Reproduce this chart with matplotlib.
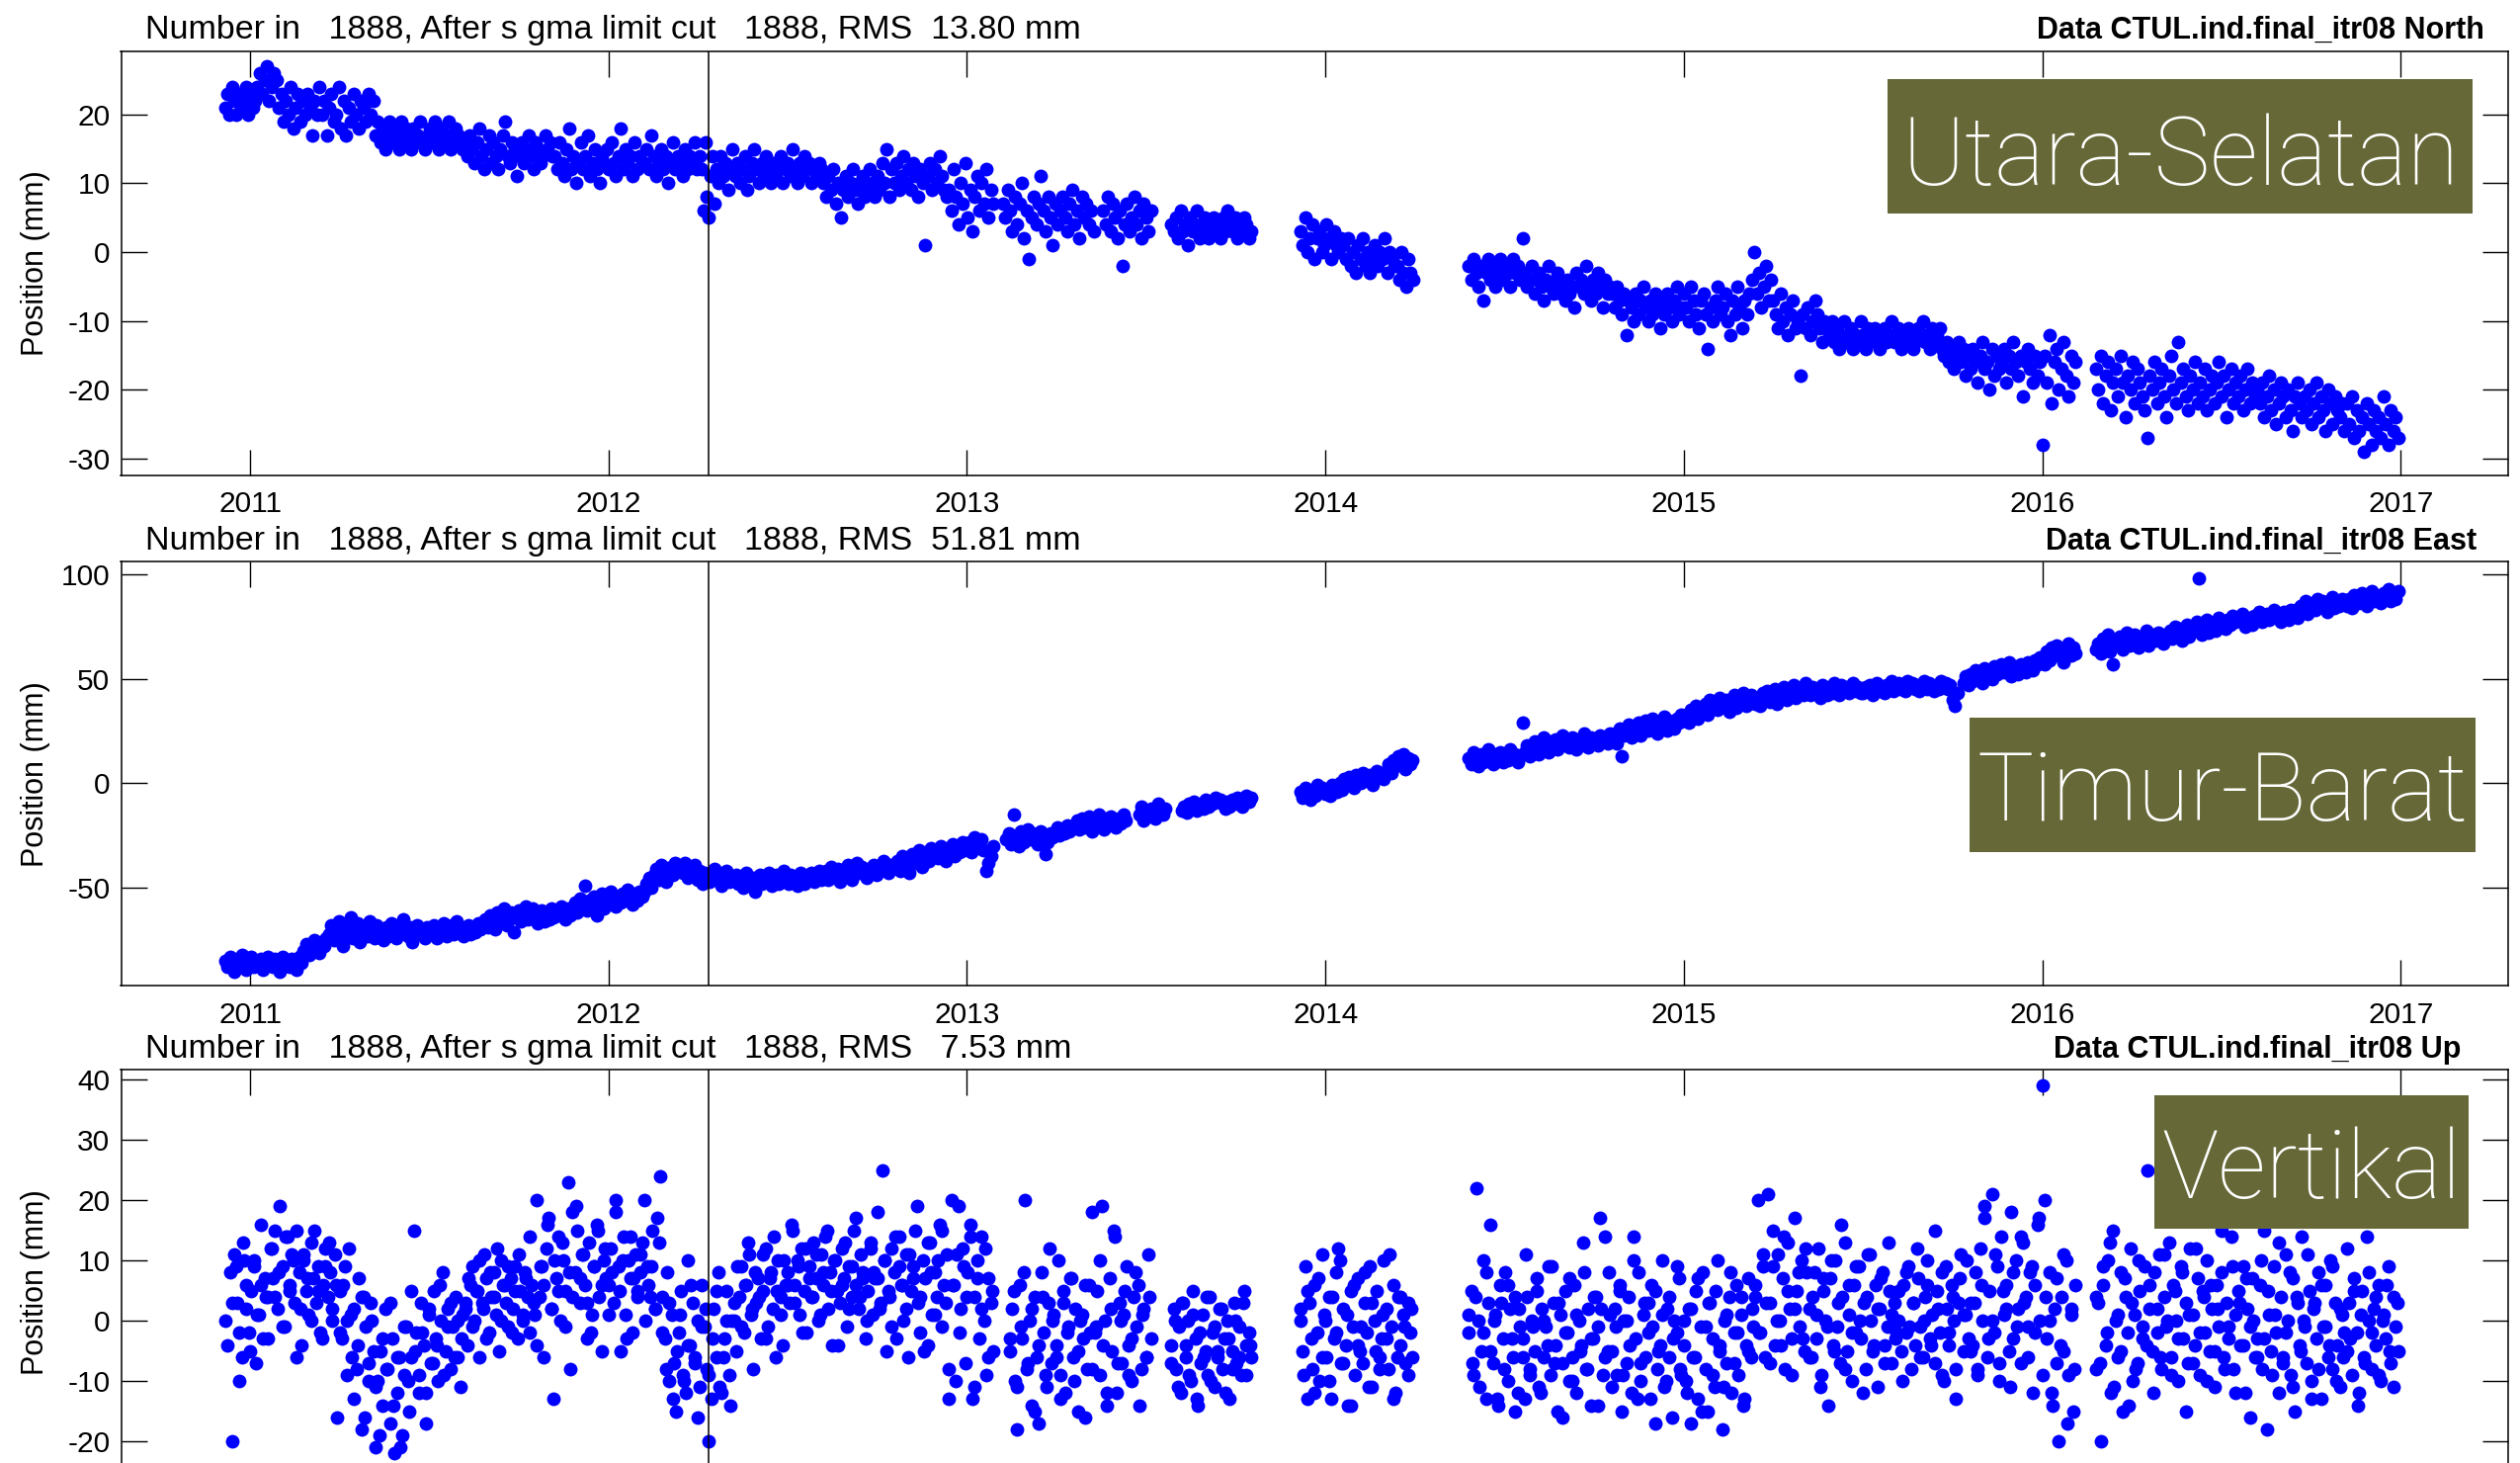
import numpy as np
import matplotlib
matplotlib.use("Agg")
import matplotlib.pyplot as plt
from matplotlib.patches import Rectangle

plt.rcParams['font.family'] = ['Liberation Sans', 'DejaVu Sans']
plt.rcParams['axes.unicode_minus'] = False

# ---------------- data (decimal year segments, positions in mm) ----------------
year_ticks = [2011, 2012, 2013, 2014, 2015, 2016, 2017]
north_yticks = [-30, -20, -10, 0, 10, 20]
east_yticks = [-50, 0, 50, 100]
up_yticks = [-20, -10, 0, 10, 20, 30, 40]
event_year = 2012.28

titles_left = ["Number in   1888, After s gma limit cut   1888, RMS  13.80 mm",
               "Number in   1888, After s gma limit cut   1888, RMS  51.81 mm",
               "Number in   1888, After s gma limit cut   1888, RMS   7.53 mm"]
titles_right = ["Data CTUL.ind.final_itr08 North",
                "Data CTUL.ind.final_itr08 East",
                "Data CTUL.ind.final_itr08 Up"]
box_labels = ["Utara-Selatan", "Timur-Barat", "Vertikal"]

north = [
    (2010.93, 2011.02, [21, 23, 20, 24, 22, 20, 23, 21, 22, 24, 20, 23, 21, 22]),
    (2011.02, 2011.08, [24, 26, 23, 25, 27, 22, 24, 26, 25]),
    (2011.08, 2011.20, [21, 23, 19, 22, 20, 24, 18, 21, 23, 19, 22, 20, 23, 21, 17, 22, 20, 24]),
    (2011.20, 2011.35, [20, 22, 17, 21, 23, 19, 20, 24, 18, 22, 17, 21, 19, 23, 20, 18, 22, 21, 19, 23, 20, 22]),
    (2011.35, 2011.60, [17, 19, 16, 18, 15, 17, 19, 16, 18, 17, 15, 19, 16, 18, 17, 15, 18, 16, 17, 19, 16, 15, 17, 18, 16, 19, 17, 15, 18, 16, 17, 19, 15, 16, 18, 17, 16, 15]),
    (2011.60, 2011.85, [16, 14, 17, 15, 13, 16, 18, 14, 12, 15, 17, 13, 16, 14, 12, 15, 17, 19, 14, 13, 16, 15, 11, 14, 16, 13, 15, 17, 14, 12, 16, 15, 13, 14, 17, 15, 16, 14]),
    (2011.85, 2012.10, [14, 12, 16, 13, 11, 15, 18, 12, 14, 10, 13, 16, 12, 14, 17, 11, 13, 15, 12, 10, 14, 13, 15, 12, 16, 13, 11, 14, 18, 12, 15, 13, 14, 11, 16, 12, 14, 13]),
    (2012.10, 2012.26, [13, 15, 12, 17, 14, 11, 13, 15, 12, 14, 10, 13, 16, 12, 14, 13, 11, 15, 12, 14, 13, 16, 12, 14]),
    (2012.26, 2012.30, [12, 6, 16, 8, 5, 11, 14, 7]),
    (2012.30, 2012.60, [12, 10, 14, 11, 13, 9, 12, 15, 11, 13, 10, 12, 14, 9, 11, 13, 15, 12, 10, 13, 11, 14, 12, 10, 13, 11, 12, 14, 10, 12, 13, 11, 15, 12, 10, 13, 11, 14, 12, 13, 10, 12, 11, 13, 12]),
    (2012.60, 2012.75, [10, 8, 11, 9, 12, 7, 10, 5, 9, 11, 8, 10, 12, 9, 7, 10, 11, 8, 9, 12, 10, 8]),
    (2012.75, 2012.95, [11, 9, 13, 10, 15, 8, 12, 10, 13, 9, 11, 14, 10, 12, 9, 13, 11, 8, 12, 10, 1, 11, 13, 9, 12, 10, 14, 11, 9, 8]),
    (2012.95, 2013.08, [9, 6, 12, 8, 4, 10, 7, 13, 5, 9, 3, 8, 11, 6, 10, 7, 12, 5, 9, 7]),
    (2013.10, 2013.36, [7, 5, 9, 6, 3, 8, 4, 7, 10, 2, 6, -1, 5, 8, 4, 7, 11, 6, 3, 8, 5, 1, 7, 4, 6, 8, 5, 3, 7, 9, 4, 6, 2, 8, 5, 7, 4, 6, 3]),
    (2013.38, 2013.52, [6, 4, 8, 3, 7, 5, 2, 6, -2, 4, 7, 3, 5, 8, 4, 6, 2, 7, 5, 3, 6]),
    (2013.57, 2013.80, [4, 3, 5, 2, 6, 3, 4, 1, 5, 3, 4, 6, 2, 3, 5, 4, 2, 3, 5, 3, 4, 2, 5, 3, 6, 4, 3, 5, 2, 4, 3, 5, 4, 2, 3]),
    (2013.93, 2014.05, [3, 1, 5, 0, 2, 4, -1, 2, 3, 0, 1, 4, 2, -1, 3, 1, 0, 2]),
    (2014.05, 2014.20, [1, -1, 2, -2, 0, -3, 1, -1, 2, -2, 0, -3, -1, 1, -2, 0, -1, 2, -3, 0, -1, -2]),
    (2014.20, 2014.25, [-2, -4, 0, -3, -5, -1, -3, -4]),
    (2014.40, 2014.55, [-2, -4, -1, -3, -5, -2, -7, -3, -1, -4, -2, -5, -3, -1, -4, -2, -3, -5, -1, -3, -2, -4]),
    (2014.55, 2014.80, [2, -3, -5, -4, -2, -6, -4, -3, -5, -7, -4, -2, -5, -6, -4, -3, -6, -5, -7, -4, -6, -5, -8, -3, -5, -4, -6, -2, -5, -7, -4, -6, -3, -5, -8, -4, -6, -5]),
    (2014.80, 2015.00, [-6, -8, -5, -7, -9, -6, -12, -7, -8, -10, -6, -9, -7, -5, -8, -10, -7, -9, -6, -8, -11, -7, -9, -6, -8, -10, -7, -5, -9, -8]),
    (2015.00, 2015.19, [-6, -8, -10, -5, -7, -9, -11, -7, -6, -9, -14, -8, -10, -7, -5, -9, -8, -6, -10, -12, -7, -9, -5, -8, -11, -7, -9, -6]),
    (2015.19, 2015.25, [-4, 0, -6, -3, -8, -5, -2, -7, -4]),
    (2015.25, 2015.40, [-7, -9, -11, -6, -10, -8, -12, -9, -7, -11, -10, -18, -9, -11, -8, -12, -10, -7, -9, -11, -13, -10]),
    (2015.40, 2015.72, [-11, -12, -10, -13, -11, -14, -12, -10, -13, -12, -11, -14, -12, -13, -10, -12, -14, -11, -13, -12, -11, -13, -14, -12, -11, -13, -12, -10, -13, -12, -11, -14, -12, -13, -11, -12, -14, -13, -11, -12, -10, -13, -12, -14, -11, -13, -12, -11]),
    (2015.72, 2016.00, [-14, -15, -13, -16, -14, -17, -15, -13, -16, -14, -18, -15, -17, -14, -16, -19, -15, -13, -17, -16, -20, -14, -18, -15, -17, -16, -14, -19, -15, -17, -13, -16, -18, -15, -21, -16, -14, -17, -19, -15, -18, -16]),
    (2016.00, 2016.10, [-28, -15, -19, -12, -22, -16, -14, -20, -17, -13, -18, -21, -15, -19, -16]),
    (2016.15, 2016.30, [-17, -20, -15, -22, -18, -16, -23, -19, -17, -21, -15, -19, -24, -18, -20, -16, -22, -17, -19, -21, -23, -27]),
    (2016.30, 2016.60, [-18, -20, -16, -22, -19, -17, -21, -24, -18, -15, -20, -22, -13, -19, -17, -21, -23, -18, -20, -16, -22, -19, -21, -17, -23, -20, -18, -22, -19, -16, -21, -18, -24, -20, -17, -22, -19, -21, -18, -23, -20, -17, -22, -19, -21]),
    (2016.60, 2016.85, [-20, -22, -19, -24, -21, -18, -23, -20, -25, -22, -19, -21, -24, -20, -23, -26, -21, -19, -22, -24, -21, -23, -20, -25, -22, -19, -24, -21, -23, -26, -20, -22, -25, -21, -23, -24, -22, -26]),
    (2016.85, 2017.00, [-22, -25, -21, -27, -23, -26, -24, -29, -22, -25, -28, -23, -26, -24, -27, -21, -25, -28, -23, -26, -24, -27]),
]

east = [
    (2010.93, 2011.15, [-85, -88, -83, -86, -90, -84, -87, -82, -85, -89, -86, -83, -88, -85, -87, -84, -89, -86, -83, -85, -88, -84, -86, -90, -83, -87, -85, -88, -84, -86, -89, -83, -86]),
    (2011.15, 2011.22, [-80, -77, -82, -78, -75, -79, -81, -76, -78, -74]),
    (2011.22, 2011.50, [-72, -68, -75, -70, -66, -73, -78, -69, -71, -64, -74, -70, -67, -76, -72, -69, -73, -66, -71, -74, -68, -72, -70, -75, -69, -73, -67, -71, -74, -68, -72, -65, -70, -73, -69, -76, -71, -68, -72, -70, -74, -69]),
    (2011.50, 2011.65, [-70, -72, -68, -74, -69, -71, -67, -73, -70, -68, -72, -66, -71, -69, -73, -70, -68, -72, -69, -71, -67, -70]),
    (2011.65, 2011.90, [-68, -65, -69, -63, -66, -70, -62, -67, -64, -60, -68, -65, -62, -71, -64, -61, -66, -63, -59, -65, -62, -60, -64, -67, -63, -61, -66, -62, -65, -60, -64, -61, -63, -59, -62, -65, -60, -63]),
    (2011.90, 2012.10, [-60, -57, -62, -55, -58, -49, -61, -56, -59, -54, -63, -57, -53, -60, -55, -58, -52, -56, -59, -54, -57, -53, -56, -51, -55, -58, -53, -56, -52, -54]),
    (2012.10, 2012.20, [-52, -48, -45, -50, -44, -41, -46, -39, -42, -47, -43, -40, -44, -38, -41]),
    (2012.20, 2012.35, [-40, -43, -38, -45, -41, -44, -39, -46, -42, -48, -43, -45, -47, -44, -41, -46, -43, -49, -44, -42, -47, -45]),
    (2012.35, 2012.60, [-46, -44, -48, -45, -50, -43, -47, -49, -45, -52, -46, -44, -48, -45, -47, -43, -49, -46, -44, -48, -45, -42, -46, -48, -44, -47, -45, -49, -43, -46, -48, -44, -46, -43, -47, -45, -42, -46]),
    (2012.60, 2012.80, [-44, -42, -46, -40, -43, -45, -41, -47, -42, -44, -39, -43, -46, -41, -38, -43, -40, -42, -45, -41, -43, -39, -44, -40, -42, -37, -41, -43, -39, -40]),
    (2012.80, 2013.00, [-40, -37, -42, -35, -39, -36, -43, -34, -38, -36, -32, -40, -35, -33, -37, -31, -34, -32, -36, -30, -34, -37, -31, -33, -29, -35, -31, -33, -28, -32]),
    (2013.00, 2013.08, [-30, -28, -33, -26, -31, -29, -27, -32, -42, -38, -35, -30]),
    (2013.11, 2013.30, [-27, -24, -29, -15, -26, -30, -23, -28, -25, -22, -27, -24, -26, -29, -23, -25, -34, -28, -24, -26, -23, -21, -25, -22, -24, -20, -23, -21]),
    (2013.30, 2013.45, [-20, -18, -22, -17, -21, -19, -16, -23, -18, -20, -15, -19, -22, -17, -20, -16, -18, -21, -17, -19, -15, -18]),
    (2013.48, 2013.56, [-15, -11, -18, -13, -16, -12, -14, -17, -10, -13, -15, -12]),
    (2013.60, 2013.80, [-13, -11, -14, -10, -12, -9, -13, -11, -10, -12, -8, -11, -9, -10, -7, -9, -8, -10, -12, -9, -11, -8, -10, -7, -9, -11, -8, -6, -9, -7]),
    (2013.93, 2014.04, [-4, -7, -2, -5, -8, -3, -6, -1, -4, -2, -5, -3, -6, -1, -3, -4]),
    (2014.04, 2014.17, [0, -3, 2, -1, 3, 1, -2, 4, 2, 0, 5, 3, 1, 4, -1, 2, 6, 3, 5, 2]),
    (2014.17, 2014.25, [6, 9, 5, 11, 8, 13, 10, 14, 7, 12, 9, 11]),
    (2014.40, 2014.55, [12, 9, 15, 11, 8, 14, 10, 13, 16, 11, 9, 14, 12, 15, 10, 13, 11, 16, 12, 14, 10, 13]),
    (2014.55, 2014.80, [29, 15, 18, 13, 17, 20, 16, 14, 19, 22, 17, 15, 20, 18, 21, 16, 19, 23, 18, 20, 17, 22, 19, 16, 21, 18, 24, 20, 17, 22, 19, 21, 18, 23, 20, 22, 19, 24]),
    (2014.80, 2015.00, [21, 24, 19, 26, 13, 23, 25, 28, 22, 26, 24, 29, 23, 27, 30, 25, 28, 31, 26, 24, 29, 27, 32, 25, 30, 28, 26, 31, 29, 33]),
    (2015.00, 2015.20, [30, 33, 29, 35, 32, 37, 31, 36, 34, 38, 33, 40, 36, 39, 35, 41, 38, 37, 40, 34, 39, 42, 36, 41, 38, 43, 37, 40, 42, 39]),
    (2015.20, 2015.50, [38, 41, 37, 43, 40, 44, 39, 42, 45, 38, 43, 41, 46, 40, 44, 42, 47, 41, 43, 45, 42, 48, 44, 42, 46, 43, 45, 41, 47, 44, 42, 46, 43, 48, 45, 42, 47, 44, 46, 43, 45, 48, 44, 46, 43]),
    (2015.50, 2015.75, [43, 46, 44, 47, 42, 45, 48, 44, 46, 43, 47, 45, 49, 44, 46, 48, 45, 47, 44, 49, 46, 48, 45, 47, 44, 46, 49, 45, 48, 46, 44, 47, 45, 49, 46, 48, 45, 47]),
    (2015.75, 2015.77, [40, 37, 43]),
    (2015.78, 2016.00, [48, 51, 47, 52, 49, 54, 50, 53, 48, 55, 51, 53, 50, 56, 52, 54, 57, 53, 55, 58, 51, 54, 56, 52, 57, 55, 53, 58, 56, 54, 59, 57, 60]),
    (2016.00, 2016.10, [60, 57, 63, 59, 65, 61, 66, 62, 64, 58, 63, 67, 61, 65, 62]),
    (2016.15, 2016.35, [64, 67, 62, 69, 65, 71, 63, 57, 68, 66, 70, 64, 67, 72, 66, 69, 71, 68, 65, 70, 67, 73, 66, 69, 71, 68, 72, 70, 67, 71]),
    (2016.35, 2016.70, [70, 73, 69, 75, 71, 74, 68, 72, 76, 70, 74, 73, 77, 98, 71, 75, 78, 72, 74, 76, 73, 79, 75, 77, 74, 78, 76, 80, 77, 79, 78, 81, 75, 77, 79, 76, 80, 78, 82, 77, 79, 81, 78, 80, 83, 79, 81, 77, 82, 80, 78, 83]),
    (2016.70, 2016.85, [80, 83, 79, 85, 82, 87, 81, 84, 86, 83, 88, 85, 87, 84, 82, 86, 89, 84, 87, 85, 88, 86]),
    (2016.85, 2017.00, [85, 88, 84, 90, 87, 86, 91, 88, 85, 89, 92, 87, 90, 88, 86, 91, 89, 93, 87, 90, 88, 92]),
]

up = [
    (2010.93, 2011.05, [0, -4, 8, -20, 11, 3, -10, -6, 10, 2, -2, 5, 9, -7, 1, 6, -3, 4]),
    (2011.05, 2011.25, [4, 12, 7, 15, 2, 19, 9, -1, 14, 6, 11, 3, 15, 8, -4, 10, 5, 1, 13, 7, 3, 9, -2, 6, 12, 4, 8, 0, 11, -16]),
    (2011.25, 2011.35, [5, -3, 9, 0, 12, -6, 2, -8, 7, -18, 4, -1, -10, 3, -5]),
    (2011.35, 2011.45, [-21, -10, -5, -14, 2, -8, -17, -3, -22, -12, -6, -19, -9, -1, -15]),
    (2011.45, 2011.60, [-6, 15, -2, -9, 3, -4, -12, 1, -7, 5, -3, -10, 0, 8, -5, 2, -8, -1, 4, -6, -11, 1]),
    (2011.60, 2011.80, [2, -4, 6, 9, 0, 5, -6, 3, 11, 7, -2, 4, 8, 1, -5, 10, 6, 3, -1, 7, 2, 9, -3, 5, 0, 8, 4, -2, 6, 1]),
    (2011.80, 2012.00, [20, 4, 9, -6, 12, 17, 2, -13, 7, 14, 0, 10, 5, 23, -8, 18, 8, 15, 3, 11, 6, -3, 13, 1, 9, 16, 4, -5, 10, 7]),
    (2012.00, 2012.15, [6, 12, 3, 20, 9, -5, 14, 1, 10, 7, -2, 11, 5, 8, 13, 0, 9, 4, 15, 2, 17, 24]),
    (2012.15, 2012.28, [4, -3, 8, -10, 1, -7, -15, -2, 5, -9, -12, 10, -4, 3, -6, 0, -11, 6, -1, -8]),
    (2012.28, 2012.35, [-20, -13, 2, -6, 8, -12, -3, 5, -9, 0]),
    (2012.35, 2012.50, [0, -5, 4, 9, -2, 6, 11, 1, -8, 3, 7, -3, 5, 12, -1, 8, 2, -6, 10, 4, -4, 6]),
    (2012.50, 2012.75, [8, 3, 15, 6, 10, 1, 12, 5, -2, 9, 4, 13, 7, 0, 11, 6, 14, 2, 8, -4, 10, 5, 3, 12, 7, -1, 9, 4, 15, 6, 2, 11, 8, -3, 5, 13, 1, 7]),
    (2012.75, 2012.95, [7, 2, 25, 10, -5, 4, 12, 8, -3, 14, 6, 0, 11, -6, 5, 9, 15, 3, -2, 10, 7, -4, 13, 1, 8, 4, 16, -1, 6, 11]),
    (2012.95, 2013.08, [-13, 20, 6, -10, 19, 2, 12, -7, 8, 16, -13, 4, 10, -3, 14, 0, -9, 7, 3, -5]),
    (2013.12, 2013.35, [-5, 2, -10, -18, 6, -3, 20, -8, 0, -14, 4, -6, -17, 8, -2, -11, 3, -7, 1, -4, 10, -9, 5, -12, -1, 7, -6, 2, -15, 0, -3, 6, -8, -2]),
    (2013.35, 2013.52, [18, -2, 5, -9, 19, 0, -14, 7, -5, 14, -12, 3, -7, 1, 9, -4, -10, 4, -1, 6, -8, 2, -6, 11, -3]),
    (2013.57, 2013.80, [-4, 2, -8, -1, -12, 3, -6, 0, -10, 5, -3, -14, -7, 1, -5, -9, 4, -2, -11, -6, 2, -8, -3, 0, -13, -5, 3, -7, -1, -9, 5, -4, -2, -6]),
    (2013.93, 2014.25, [0, -5, 9, -13, 3, -8, 6, -2, -10, 11, 1, -6, 4, -13, -3, 8, 12, -7, 2, -4, -14, 5, -1, -9, 7, -5, -7, 3, -2, 9, -11, 0, 5, -6, -3, 10, 2, -8, -1, 6, -12, 4, -4, 1, -7, 3, -2, -6]),
    (2014.40, 2014.55, [-2, 5, -9, 22, 0, -5, 10, -13, 3, 16, -7, 1, -14, 6, -3, 8, -10, 2, -6, 4, -12, -1]),
    (2014.55, 2014.80, [-3, -13, 4, -8, 0, -5, 7, -11, 2, -6, -1, 9, -9, 3, -4, -15, 1, -7, 5, -2, -10, -6, 6, -12, 0, -4, 8, -8, 2, -14, -3, 4, -1, 17, -9, 14, -5, 1]),
    (2014.80, 2015.00, [-5, 2, -9, 6, -15, 0, -7, 4, -12, 14, -3, 8, -10, 1, -6, 3, -13, -1, 5, -8, -4, 10, -11, 2, -6, -16, 0, -2, 7, -9]),
    (2015.00, 2015.20, [-4, -10, 2, -17, -6, 5, -13, -1, 8, -8, -15, 3, -3, -11, 10, -5, -18, 0, -7, 4, -12, -2, 6, -9, 1, -14, -4, 7, -6, -1]),
    (2015.20, 2015.35, [4, 20, -2, 9, -6, 21, 3, 15, -4, 11, 0, 7, -8, 13, 2, -3, 17, 5, -1, 10, -5, 8]),
    (2015.35, 2015.60, [2, -6, 8, -3, 12, -9, 5, 0, -14, 7, -4, 10, -1, -7, 4, 13, -5, 1, -10, 6, -2, 9, -3, 3, -8, 11, 0, -5, 6, -11, 2, 8, -4, -1, 5, -7, 3, -2]),
    (2015.60, 2015.80, [0, -5, 6, -2, 9, -8, 3, -4, 7, -1, -6, 4, 10, -3, 1, -7, 5, -2, 8, -10, 2, -4, 6, 0, -8, 3, 11, -5, 1, -3]),
    (2015.80, 2016.00, [3, -4, 8, -9, 12, 0, 17, -6, 5, 21, -2, 9, -10, 14, 1, 6, -5, 18, -3, 10, 2, -7, 13, 4, -1, 8, -12, 6, 16, 0]),
    (2016.00, 2016.10, [39, 20, -3, 8, -12, 2, -7, -20, 4, -5, 10, -9, 1, -15, 6]),
    (2016.15, 2016.30, [-8, 3, -20, 6, -4, 10, -12, 15, 0, -6, 8, -15, 4, -2, 12, -10, 1, -7, 5, -3, 9, 25]),
    (2016.30, 2016.60, [2, -5, 8, -2, 11, -8, 4, -1, 13, -6, 6, 0, -10, 9, -3, 3, -7, 12, 1, -4, 7, -9, 5, -2, 10, -5, 2, -11, 6, -1, 8, -6, 3, -3, 14, -8, 1, 5, -4, 9, -12, 2, -1, 7, -6]),
    (2016.60, 2016.85, [-3, 6, -8, 15, -18, 1, -5, 9, -2, -12, 4, -6, 11, 0, -9, 7, -15, 3, -4, 14, -1, -7, 5, -10, 2, -3, 8, -13, -1, 6, -6, 10, -8, 3, -4, -11, 1, -2]),
    (2016.85, 2017.00, [-5, 3, -9, 7, -2, -12, 5, -6, 14, 0, -8, 2, -4, 6, -10, 1, -3, 9, -7, 4, -1, -5]),
]

# further daily Up solutions read from the same clouds (interleaved in time)
up_more = [
    (2010.95, 2011.25, [3, 9, -2, 13, 6, -5, 10, 1, 16, 7, -3, 12, 4, 8, -1, 14, 5, 10, -6, 2, 11, 7, 0, 15, 5, -3, 9, 13, 2, 6]),
    (2011.25, 2011.60, [-2, 6, -9, 1, -13, -4, 4, -16, -7, 0, -11, -19, -3, -8, 3, -14, -6, -21, -1, -10, 5, -5, -12, -2, -17, 2, -7, -4, 6, -9, -1, 3, -6, 0, -3]),
    (2011.60, 2012.15, [3, 7, -1, 5, 10, 2, -3, 8, 4, 12, 0, 6, 9, -2, 5, 11, 1, 7, 14, 3, -4, 9, 6, 16, 2, 10, 5, 13, -1, 8, 4, 19, 7, 11, 3, -2, 9, 15, 6, 12, 1, 8, 18, 5, 10, -3, 14, 7, 4, 11, 20, 6, 9, 2, 13]),
    (2012.15, 2012.35, [-2, -8, 3, -13, -5, 1, -10, -4, 6, -7, -16, -1, 2, -9, -3, 5, -11, -6, 0, -14]),
    (2012.35, 2013.08, [3, 9, -1, 6, 13, 2, 8, 4, 11, -3, 7, 14, 5, 1, 10, 6, 16, 3, 9, -2, 12, 7, 4, 11, 1, 8, 15, 5, 10, -4, 6, 13, 2, 9, 17, 4, 7, 0, 12, 8, 18, 3, 10, 5, -1, 14, 9, 6, 2, 11, 7, 19, 4, -5, 13, 8, 1, 10, 15, 3, -8, 6, 11, -2, 9, 4, 14, -11, 7, 2, 12, -6, 5]),
    (2013.12, 2013.52, [-3, 5, -11, -1, 8, -7, 2, -15, -4, 4, -9, 12, 0, -6, -13, 3, -2, 7, -10, -5, 1, -16, 6, -8, -1, 10, -4, -12, 2, 15, -7, 0, 5, -9, -3, 8, -14, 1, -6, 4]),
    (2013.57, 2013.80, [-7, 0, -11, 3, -4, -9, 1, -13, -2, -6, 4, -10, -1, -5, 2, -12, -3, -8, 0, -6, 3, -9, -4]),
    (2013.93, 2014.25, [2, -9, 5, -3, -12, 7, -6, 0, -10, 4, -2, 10, -7, 1, -14, 6, -4, -1, 8, -11, 3, -5, -8, 1, -3, 11, -13, -6, 4, -1, -9, 2]),
    (2014.40, 2015.20, [1, -7, 4, -11, -2, 8, -5, 0, -13, 3, -8, 6, -3, -15, 2, -6, 11, -9, -1, 5, -12, 0, -4, 9, -7, 3, -16, -2, 7, -10, 1, -5, 13, -8, -3, 4, -14, 2, -6, 8, -11, -1, 5, -9, 0, -4, 10, -13, -7, 3, -2, 6, -17, -5, 1, -10, 4, -3, 9, -8, 0, -12, 2, -6, 7, -15, -1, 3, -9, 5, -4, -11, 1, 8, -7, -2, 4, -13, -5, 2]),
    (2015.20, 2016.10, [6, -2, 11, 3, -7, 9, 0, -4, 14, 5, -9, 2, 8, -3, 12, -6, 4, 1, -11, 7, -1, 10, -5, 3, 16, -8, 6, -2, 9, 0, -12, 4, 11, -4, 2, 7, -7, 13, 1, -3, 5, -10, 8, -1, 3, 12, -6, 0, 6, -4, 15, 2, -9, 9, -2, 4, -13, 7, 1, 10, -5, 3, -8, 6, 19, -3, 0, 11, -7, 5, 2, -11, 8, -1, 14, 3, -6, 9, -2, 17, -9, 4, 0, -14, 7, -4, 11, -17, 2, -8]),
    (2016.15, 2017.00, [4, -7, 9, -2, 13, -11, 1, -5, 7, -14, 3, -8, 10, -1, -4, 6, -12, 2, -6, 11, 0, -9, 5, -3, 8, -15, 1, -7, 12, -2, 4, -10, 6, -5, 2, 15, -8, -1, 9, -12, 3, -4, 7, -16, 0, -6, 10, -3, 5, -9, 1, 13, -7, -2, 8, -11, 4, -5, 0, 11, -13, 3, -8, 6, -1, -4, 9, -10, 2, -6, 12, -3, 5, -14, 1, -7, 8, -2, 4, -9, 0, 6, -5, -11, 3]),
]


def expand(*segment_lists):
    ts, vs = [], []
    for segments in segment_lists:
        for a, b, vals in segments:
            ts.append(np.linspace(a, b, len(vals), endpoint=False))
            vs.append(np.asarray(vals, dtype=float))
    return np.concatenate(ts), np.concatenate(vs)


# ---------------- figure ----------------
W, H = 2550, 1480
fig = plt.figure(figsize=(W / 100, H / 100), dpi=100)

left = 122.5 / W
width = (2538 - 122.5) / W
ax_h = 429 / H
tops = [51.7, 568.3, 1082.3]
ylims = [(-32.4, 29.2), (-96.9, 105.9), (-28.7, 41.6)]
yticks = [north_yticks, east_yticks, up_yticks]
datasets = [(north,), (east,), (up, up_more)]
right_edges = [2514, 2506, 2490]

axes = []
for i in range(3):
    bottom = 1 - (tops[i] + 429) / H
    ax = fig.add_axes([left, bottom, width, ax_h])
    t, v = expand(*datasets[i])
    ax.plot(t, v, 'o', color='#0000ff', ms=10.0, mew=0, zorder=3)
    ax.axvline(event_year, color='black', lw=1.1, zorder=4)
    ax.set_xlim(2010.64, 2017.30)
    ax.set_ylim(*ylims[i])
    ax.set_xticks(year_ticks)
    ax.set_xticklabels([str(y) for y in year_ticks])
    ax.set_yticks(yticks[i])
    ax.tick_params(direction='in', length=19, width=1.0, top=True, right=True,
                   labelsize=21.5, pad=8, colors='black')
    ax.tick_params(axis='x', pad=11)
    if i == 2:
        ax.tick_params(axis='x', labelbottom=False)
    for sp in ax.spines.values():
        sp.set_linewidth(1.1)
    ax.text(-0.0358, 0.5, "Position (mm)", transform=ax.transAxes, rotation=90,
            ha='center', va='center', fontsize=22)
    ax.text((147 - 122.5) / 2415.5, 1.029, titles_left[i], transform=ax.transAxes,
            ha='left', va='baseline', fontsize=24.5)
    ax.text((right_edges[i] - 122.5) / 2415.5, 1.029, titles_right[i], transform=ax.transAxes,
            ha='right', va='baseline', fontsize=22, fontweight='bold')
    axes.append(ax)

# ---------------- olive label boxes ----------------
boxes = [(1910, 80, 2502, 215.7, 187), (1993, 726, 2505, 861.7, 830), (2180, 1108, 2498, 1243, 1212)]
for (x0, y0, x1, y1, base), lab in zip(boxes, box_labels):
    fig.patches.append(Rectangle((x0 / W, 1 - y1 / H), (x1 - x0) / W, (y1 - y0) / H,
                                 transform=fig.transFigure, facecolor='#676838',
                                 edgecolor='none', zorder=10))
    fig.text((x0 + x1) / 2 / W, 1 - base / H, lab, ha='center', va='baseline',
             color='white', fontsize=69, fontweight='light',
             family=['Roboto', 'Liberation Sans', 'DejaVu Sans'], zorder=11)

fig.savefig("out.png", dpi=100)
